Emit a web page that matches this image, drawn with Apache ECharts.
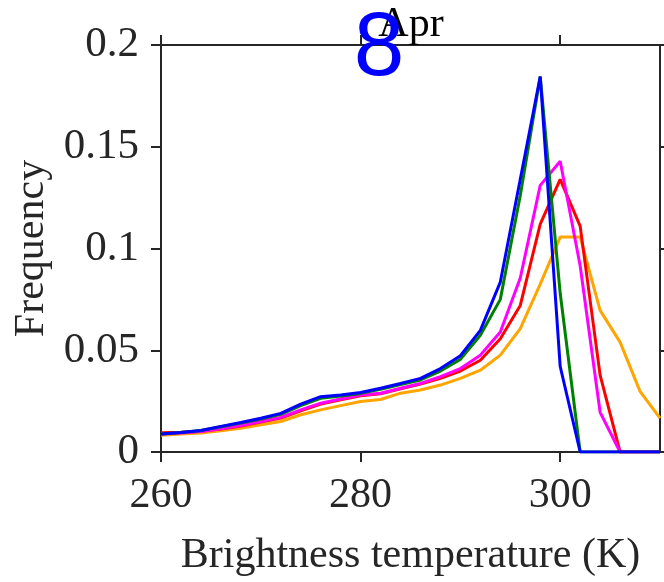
<!DOCTYPE html>
<html>
<head>
<meta charset="utf-8">
<script src="https://cdn.jsdelivr.net/npm/echarts@6/dist/echarts.min.js"></script>
<style>
html,body{margin:0;padding:0;background:#fff;}
#chart{width:664px;height:582px;}
</style>
</head>
<body>
<div id="chart"></div>
<script>
// Brightness temperature bins (K)
const temps = [260,262,264,266,268,270,272,274,276,278,280,282,284,286,288,290,292,294,296,298,300,302,304,306,308,310];
const orangeVals = [0.0082,0.0088,0.0093,0.0104,0.0117,0.0134,0.0150,0.0183,0.0207,0.0228,0.0248,0.0258,0.0289,0.0305,0.0329,0.0362,0.0402,0.0476,0.0606,0.0825,0.1056,0.1056,0.0696,0.0540,0.0298,0.0166];
const redVals    = [0.0095,0.0097,0.0102,0.0113,0.0128,0.0147,0.0167,0.0202,0.0236,0.0257,0.0276,0.0286,0.0310,0.0334,0.0362,0.0398,0.0451,0.0557,0.0720,0.1120,0.1340,0.1110,0.0378,0,0,0];
const magentaVals= [0.0088,0.0093,0.0101,0.0114,0.0130,0.0150,0.0170,0.0207,0.0240,0.0260,0.0280,0.0289,0.0313,0.0337,0.0370,0.0410,0.0476,0.0590,0.0855,0.1310,0.1429,0.0915,0.0195,0,0,0];
const greenVals  = [0.0088,0.0096,0.0106,0.0124,0.0142,0.0162,0.0185,0.0228,0.0264,0.0275,0.0288,0.0308,0.0332,0.0354,0.0398,0.0455,0.0574,0.0750,0.1260,0.1845,0.0780,0,0,0,0,0];
const blueVals   = [0.0088,0.0096,0.0106,0.0126,0.0145,0.0166,0.0190,0.0235,0.0272,0.0280,0.0292,0.0313,0.0337,0.0362,0.0410,0.0473,0.0598,0.0835,0.1340,0.1845,0.0420,0,0,0,0,0];
const xTicks = [260,280,300];
const yTicks = [0,0.05,0.1,0.15,0.2];
const titleText = 'Apr';
const panelLabel = '8';
const xName = 'Brightness temperature (K)';
const yName = 'Frequency';

const serif = '"Liberation Serif","Times New Roman",serif';
const axisColor = '#262626';
const pair = vals => temps.map((t,i)=>[t, vals[i]]);

const chart = echarts.init(document.getElementById('chart'), null, {renderer:'canvas'});
const axisLineStyle = {color: axisColor, width: 2};
const tickCommon = {show:true, inside:false, length:10, lineStyle:{color:axisColor, width:2}};

const option = {
  animation:false,
  backgroundColor:'#ffffff',
  grid:{left:161, right:4, top:45, bottom:128, containLabel:false},
  xAxis:[
    {type:'value', min:260, max:310, interval:20, position:'bottom',
     axisLine:{show:true, onZero:false, lineStyle:axisLineStyle},
     axisTick:Object.assign({customValues:xTicks}, tickCommon),
     axisLabel:{customValues:xTicks, margin:23, color:axisColor, fontFamily:serif, fontSize:42},
     splitLine:{show:false},
     name:xName, nameLocation:'middle', nameGap:83,
     nameTextStyle:{color:axisColor, fontFamily:serif, fontSize:42}},
    {type:'value', min:260, max:310, interval:20, position:'top',
     axisLine:{show:true, onZero:false, lineStyle:axisLineStyle},
     axisTick:Object.assign({customValues:xTicks}, tickCommon),
     axisLabel:{show:false}, splitLine:{show:false}}
  ],
  yAxis:[
    {type:'value', min:0, max:0.2, interval:0.05, position:'left',
     axisLine:{show:true, onZero:false, lineStyle:axisLineStyle},
     axisTick:tickCommon,
     axisLabel:{margin:22, color:axisColor, fontFamily:serif, fontSize:43,
       formatter:v=>String(Math.round(v*100)/100)},
     splitLine:{show:false},
     name:yName, nameLocation:'middle', nameGap:104, nameRotate:90,
     nameTextStyle:{color:axisColor, fontFamily:serif, fontSize:42}},
    {type:'value', min:0, max:0.2, interval:0.05, position:'right',
     axisLine:{show:true, onZero:false, lineStyle:axisLineStyle},
     axisTick:tickCommon, axisLabel:{show:false}, splitLine:{show:false}}
  ],
  series:[
    {name:'orange', type:'line', data:pair(orangeVals), color:'#FFA500'},
    {name:'red', type:'line', data:pair(redVals), color:'#FF0000'},
    {name:'magenta', type:'line', data:pair(magentaVals), color:'#FF00FF'},
    {name:'green', type:'line', data:pair(greenVals), color:'#008000'},
    {name:'blue', type:'line', data:pair(blueVals), color:'#0000FF'}
  ].map(s=>Object.assign(s,{showSymbol:false, symbol:'none', lineStyle:{width:3, color:s.color}, xAxisIndex:0, yAxisIndex:0, z:3})),
  graphic:[
    {type:'text', x:411, y:25, z:10,
     style:{text:titleText, font:'normal 42px '+serif, fill:'#000', textAlign:'center', textVerticalAlign:'middle'}},
    {type:'text', x:379, y:50, z:11,
     style:{text:panelLabel, font:'normal 91px "Liberation Sans",Arial,sans-serif', fill:'#0000FF', textAlign:'center', textVerticalAlign:'middle'}},
    {type:'text', x:247, y:-27, z:11,
     style:{text:panelLabel, font:'normal 91px "Liberation Sans",Arial,sans-serif', fill:'#0000FF', textAlign:'center', textVerticalAlign:'middle'}}
  ]
};
chart.setOption(option);
</script>
</body>
</html>
